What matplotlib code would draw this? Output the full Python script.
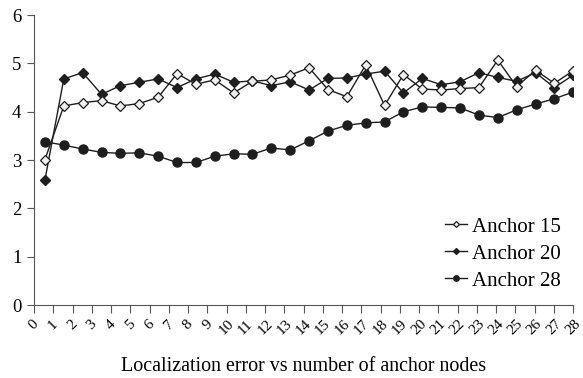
import matplotlib
matplotlib.use('Agg')
import matplotlib.pyplot as plt
import numpy as np

plt.rcParams['font.family'] = ['Liberation Serif', 'DejaVu Serif']

labels = [str(i) for i in range(29)]
anchor15 = [3.01, 4.12, 4.19, 4.23, 4.12, 4.17, 4.30, 4.79, 4.57, 4.66,
            4.39, 4.63, 4.66, 4.76, 4.91, 4.46, 4.31, 4.97, 4.13, 4.77,
            4.47, 4.45, 4.48, 4.50, 5.07, 4.52, 4.86, 4.59, 4.85]
anchor20 = [2.59, 4.68, 4.81, 4.36, 4.54, 4.61, 4.68, 4.50, 4.68, 4.78,
            4.61, 4.64, 4.54, 4.62, 4.45, 4.69, 4.70, 4.78, 4.84, 4.39,
            4.69, 4.56, 4.62, 4.81, 4.71, 4.63, 4.81, 4.50, 4.76]
anchor28 = [3.38, 3.31, 3.23, 3.16, 3.14, 3.15, 3.08, 2.95, 2.95, 3.08,
            3.13, 3.12, 3.25, 3.21, 3.40, 3.60, 3.72, 3.77, 3.79, 4.00,
            4.10, 4.09, 4.08, 3.93, 3.88, 4.04, 4.16, 4.27, 4.41]

x = np.arange(len(labels))
dark = '#1e1e1e'

fig = plt.figure(figsize=(5.83, 3.78), dpi=100)
ax = fig.add_axes([0.0583, 0.193, 0.925, 0.767])

ax.plot(x, anchor28, color=dark, lw=1, marker='o', ms=6.5, mfc=dark, mec=dark, label='Anchor 28')
ax.plot(x, anchor20, color=dark, lw=1, marker='D', ms=5, mfc=dark, mec=dark, label='Anchor 20')
ax.plot(x, anchor15, color=dark, lw=1, marker='D', ms=5, mfc='#f0f0f0', mec=dark, mew=0.9, label='Anchor 15')

xmin, xmax = -0.58, 28.0
ax.set_xlim(xmin, xmax)
ax.set_ylim(0, 6)
ax.set_xticks(np.linspace(xmin, xmax, 29))
ax.set_xticklabels(labels, rotation=45, ha='center', fontsize=11)
ax.set_yticks(range(7))
ax.tick_params(axis='y', labelsize=13.5, length=5, color='#555555', pad=4)
ax.tick_params(axis='x', length=6, color='#555555', pad=3)
for s in ['top', 'right']:
    ax.spines[s].set_visible(False)
for s in ['left', 'bottom']:
    ax.spines[s].set_color('#555555')

ax.set_xlabel('Localization error vs number of anchor nodes', fontsize=14.4, labelpad=14)

h, l = ax.get_legend_handles_labels()
ax.legend(h[::-1], l[::-1], loc='upper left', bbox_to_anchor=(0.746, 0.453),
          bbox_transform=fig.transFigure, frameon=False, borderpad=0,
          fontsize=15, markerscale=0.6, handlelength=1.05, handletextpad=0.25, labelspacing=0.35)

fig.savefig('out.png', dpi=100)
